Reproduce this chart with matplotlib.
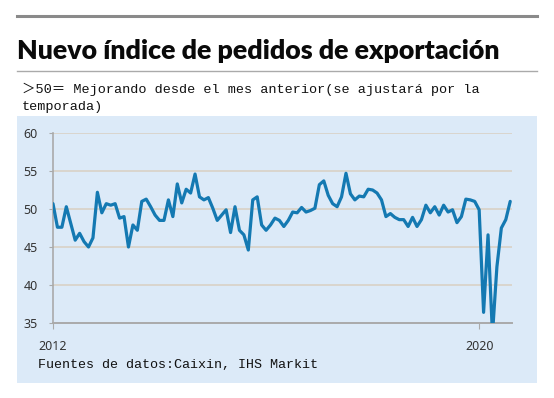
# Caixin PMI - new export orders index, monthly 2012-2020
import matplotlib.pyplot as plt
from matplotlib.lines import Line2D
from matplotlib.patches import Rectangle
import numpy as np

# monthly values, Jan 2012 .. Aug 2020
export_orders = [
    50.7, 47.6, 47.6, 50.3, 48.1, 45.9, 46.8, 45.7, 45.0, 46.2, 52.2, 49.5,
    50.7, 50.5, 50.7, 48.8, 49.0, 45.0, 47.9, 47.2, 51.0, 51.3, 50.3, 49.2,
    48.5, 48.5, 51.2, 49.0, 53.3, 50.8, 52.6, 52.1, 54.6, 51.6, 51.2, 51.5,
    50.1, 48.5, 49.2, 49.9, 46.9, 50.3, 47.2, 46.6, 44.6, 51.2, 51.6, 47.9,
    47.2, 47.9, 48.8, 48.5, 47.7, 48.5, 49.6, 49.5, 50.2, 49.6, 49.8, 50.1,
    53.2, 53.7, 51.8, 50.7, 50.3, 51.6, 54.7, 52.0, 51.2, 51.7, 51.6, 52.6,
    52.5, 52.1, 51.2, 49.0, 49.4, 48.9, 48.6, 48.6, 47.7, 48.9, 47.7, 48.6,
    50.5, 49.5, 50.3, 49.2, 50.5, 49.6, 49.9, 48.2, 49.0, 51.3, 51.2, 51.0,
    49.9, 36.4, 46.6, 33.5, 42.4, 47.5, 48.6, 51.0,
]
year_ticks = [0, 96]          # months since Jan 2012
year_labels = ["2012", "2020"]
y_ticks = [35, 40, 45, 50, 55, 60]

title = "Nuevo índice de pedidos de exportación"
subtitle = "＞50＝ Mejorando desde el mes anterior(se ajustará por la\ntemporada)"
source = "Fuentes de datos:Caixin, IHS Markit"

W, H = 554, 398
fig = plt.figure(figsize=(W / 100, H / 100), dpi=100)
fig.patch.set_facecolor("white")

# light blue panel behind the chart
fig.add_artist(Rectangle((17 / W, 1 - 383 / H), 520 / W, 267 / H,
                         transform=fig.transFigure, facecolor="#dceaf8",
                         edgecolor="none", zorder=0))
# rules above and below the title
fig.add_artist(Line2D([17 / W, 537 / W], [1 - 16 / H] * 2, color="#8a8a8a",
                      linewidth=2.2))
fig.add_artist(Line2D([17 / W, 537 / W], [1 - 71 / H] * 2, color="#aaaaaa",
                      linewidth=1.0))

fig.text(17 / W, 1 - 51 / H, title, fontsize=19.3, fontweight="heavy",
         family="Lato", va="center", ha="left", color="#0a0a0a")
mono = ["Liberation Mono", "Noto Sans CJK JP"]
fig.text(22 / W, 1 - 98 / H, subtitle, fontsize=9.7, family=mono,
         va="center", ha="left", linespacing=1.55, color="#111111")
fig.text(38 / W, 1 - 365 / H, source, fontsize=9.6, family=mono,
         va="center", ha="left", color="#111111")

ax = fig.add_axes([53 / W, 1 - 323 / H, 459 / W, 190 / H])
ax.set_facecolor("none")
x = np.arange(len(export_orders))
ax.plot(x, export_orders, color="#1479b2", linewidth=2.3,
        solid_joinstyle="round", solid_capstyle="round", zorder=3)

ax.set_xlim(0, 103.4)
ax.set_ylim(35, 60)
ax.set_yticks(y_ticks)
ax.set_xticks(year_ticks)
ax.set_xticklabels(year_labels)
for v in y_ticks[1:]:
    ax.axhline(v, color="#d9d5cd", linewidth=1.4, zorder=1)

ax.spines[["top", "right"]].set_visible(False)
ax.spines["left"].set_color("#aaaaaa")
ax.spines["bottom"].set_color("#aaaaaa")
ax.spines["left"].set_linewidth(1.2)
ax.spines["bottom"].set_linewidth(1.4)
ax.tick_params(axis="y", length=3, color="#aaaaaa", labelsize=9,
               labelcolor="#333333", pad=8)
ax.tick_params(axis="x", length=4, color="#aaaaaa", labelsize=9,
               labelcolor="#333333", pad=8)
for lab in ax.get_xticklabels() + ax.get_yticklabels():
    lab.set_family("Noto Sans")

plt.savefig("out.png", dpi=100)
